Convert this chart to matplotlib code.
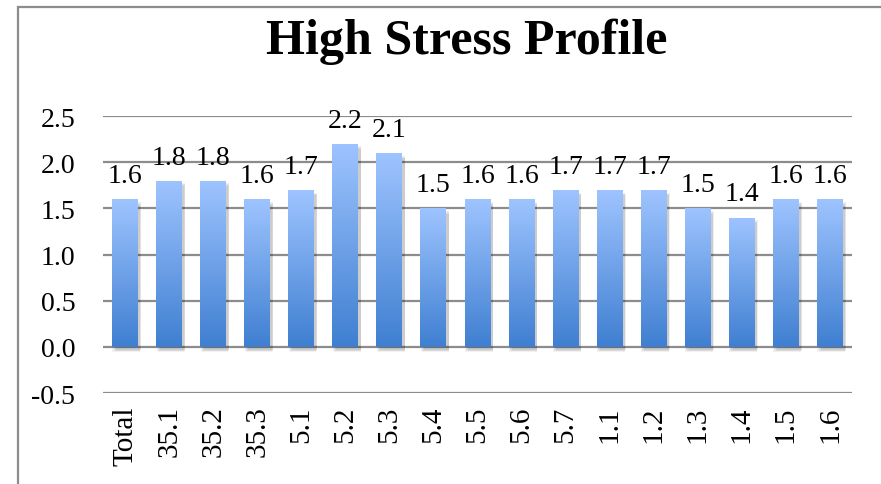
import numpy as np
import matplotlib
matplotlib.use("Agg")
import matplotlib.pyplot as plt
from matplotlib.colors import LinearSegmentedColormap
from matplotlib.patches import Rectangle

categories = ["Total", "35.1", "35.2", "35.3", "5.1", "5.2", "5.3", "5.4", "5.5",
              "5.6", "5.7", "1.1", "1.2", "1.3", "1.4", "1.5", "1.6"]
values = [1.6, 1.8, 1.8, 1.6, 1.7, 2.2, 2.1, 1.5, 1.6, 1.6, 1.7, 1.7, 1.7, 1.5, 1.4, 1.6, 1.6]
yticks = [-0.5, 0.0, 0.5, 1.0, 1.5, 2.0, 2.5]

plt.rcParams['font.family'] = ['Liberation Serif', 'DejaVu Serif']

fig = plt.figure(figsize=(8.81, 4.85), dpi=100)
ax = fig.add_axes([103 / 881, 1 - 394 / 485, (852 - 103) / 881, (394 - 117) / 485])

x = np.arange(len(categories))
width = 0.59

# soft shadow under bars
for k, a in enumerate([0.05, 0.05, 0.05, 0.06]):
    dx = 0.03 + 0.015 * k
    ax.bar(x + dx, values, width=width + 0.04 - 0.02 * k, bottom=-0.06 + 0.01 * k,
           color="black", alpha=a, zorder=2, linewidth=0)

bars = ax.bar(x, values, width=width, color="none", zorder=3, linewidth=0)

cmap = LinearSegmentedColormap.from_list("blu", ["#3F7FD1", "#9EC4FF"])
grad = np.linspace(0, 1, 256).reshape(-1, 1)
for b in bars:
    bx, by = b.get_x(), b.get_y()
    bw, bh = b.get_width(), b.get_height()
    im = ax.imshow(grad, cmap=cmap, aspect="auto", origin="lower",
                   extent=[bx, bx + bw, by, by + bh], zorder=3)
    im.set_clip_path(b)

for xi, v in zip(x, values):
    ax.text(xi, v + 0.12, f"{v:.1f}", ha="center", va="bottom", fontsize=20, zorder=5)

ax.set_xlim(-0.5, len(categories) - 0.5)
ax.set_ylim(-0.5, 2.5)
ax.set_yticks(yticks)
ax.set_yticklabels([f"{t:.1f}" for t in yticks], fontsize=20)
ax.set_xticks(x)
ax.set_xticklabels(categories, rotation=90, fontsize=21)
ax.tick_params(length=0)
ax.tick_params(axis="y", pad=20)
ax.tick_params(axis="x", pad=9)
ax.yaxis.grid(True, color="#8c8c8c", linewidth=1.6, zorder=1)
ax.set_axisbelow(True)
for s in ax.spines.values():
    s.set_visible(False)

fig.text(467 / 881, 1 - 42 / 485, "High Stress Profile", ha="center", va="center",
         fontsize=36, fontweight="bold")

fig.patches.append(Rectangle((18 / 881, -0.1), 1.2, 1 - 8 / 485 + 0.1,
                             transform=fig.transFigure, fill=False,
                             edgecolor="#8c8c8c", linewidth=1.6))

fig.savefig("out.png", dpi=100)
